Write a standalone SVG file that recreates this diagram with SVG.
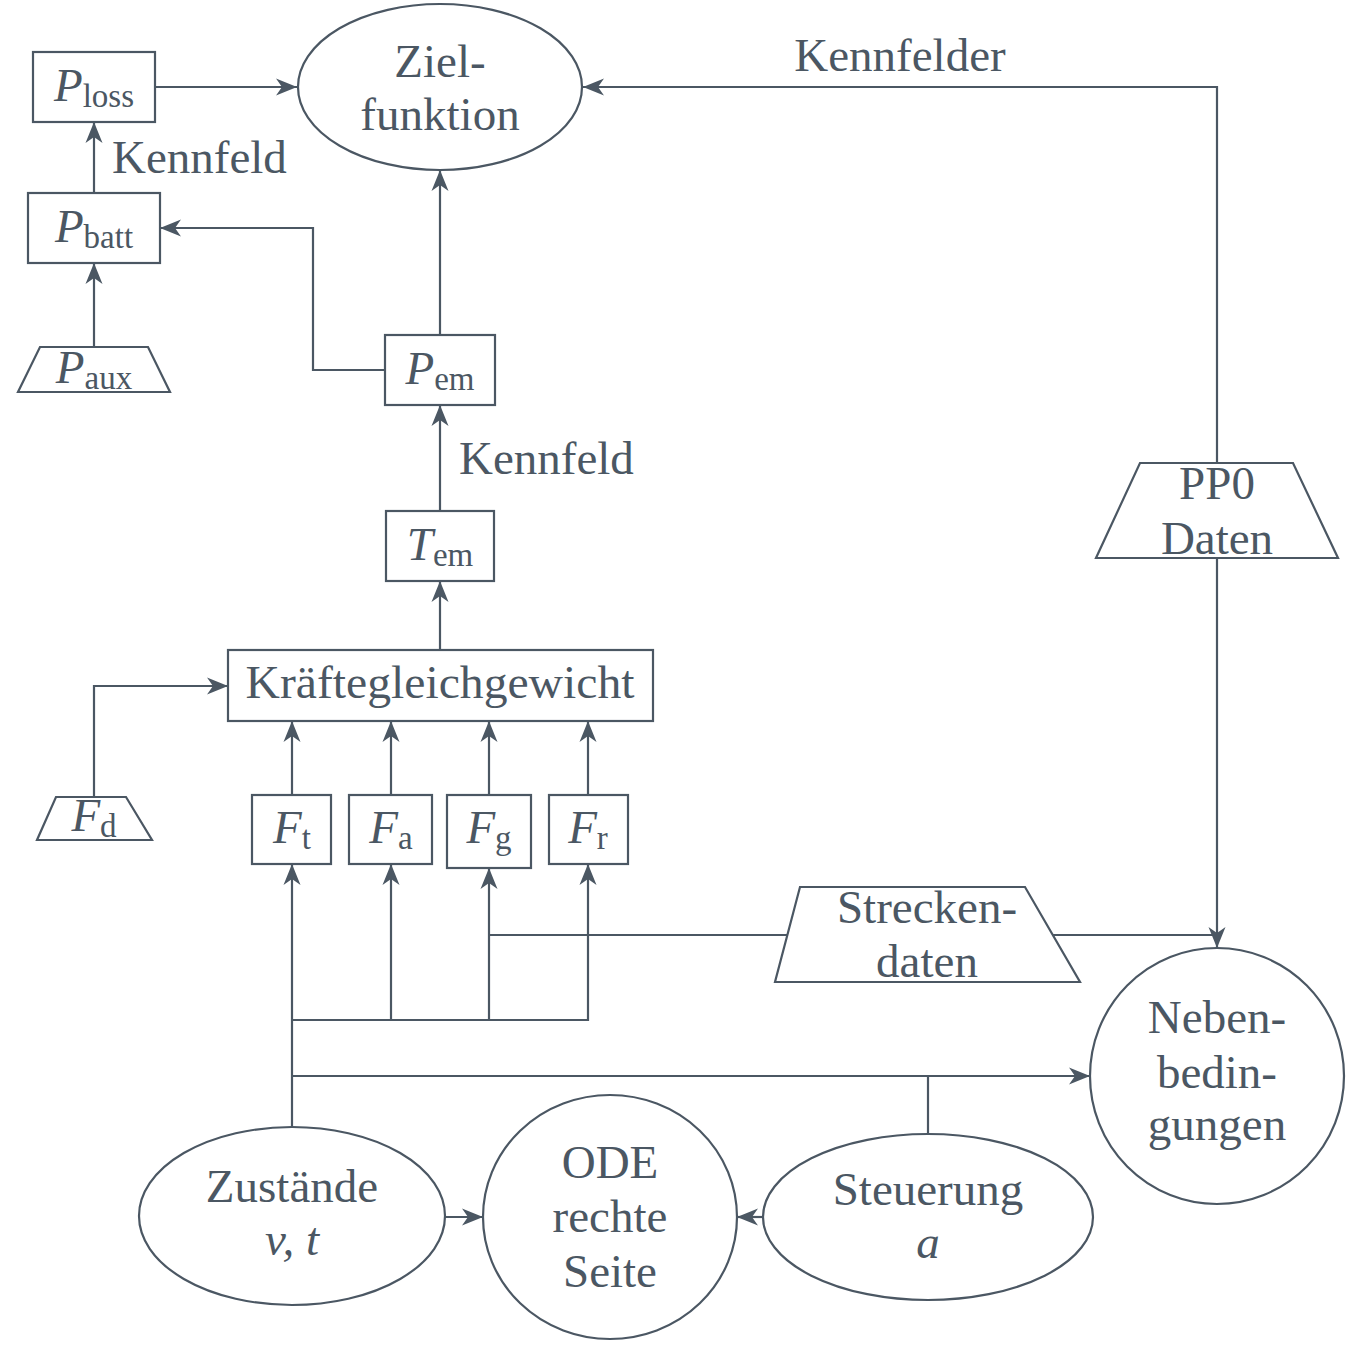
<svg xmlns="http://www.w3.org/2000/svg" width="1372" height="1350" viewBox="0 0 1372 1350">
<style>
.s{fill:none;stroke:#4b5763;stroke-width:2.2}
.c{fill:none;stroke:#4b5763;stroke-width:2.2}
text{font-family:"Liberation Serif","DejaVu Serif",serif;font-size:47px;fill:#4b5763;text-anchor:middle}
.i{font-style:italic}
.sub{font-size:33px}
.l{text-anchor:start}
</style>
<defs>
<marker id="arr" viewBox="-22 -10 23 20" refX="0" refY="0" markerWidth="23" markerHeight="20" orient="auto" markerUnits="userSpaceOnUse">
<path d="M0,0 L-21,-8.5 L-15,0 L-21,8.5 Z" fill="#4b5763"/>
</marker>
</defs>
<rect width="1372" height="1350" fill="#ffffff"/>
<g id="connectors">
<path class="c" d="M155,87 H297" marker-end="url(#arr)"/>
<path class="c" d="M94,193 V122" marker-end="url(#arr)"/>
<path class="c" d="M94,347 V263" marker-end="url(#arr)"/>
<path class="c" d="M440,335 V170" marker-end="url(#arr)"/>
<path class="c" d="M385,370 H313 V228 H160" marker-end="url(#arr)"/>
<path class="c" d="M440,511 V405" marker-end="url(#arr)"/>
<path class="c" d="M440,650 V581" marker-end="url(#arr)"/>
<path class="c" d="M94,797 V686 H228" marker-end="url(#arr)"/>
<path class="c" d="M292,795 V721" marker-end="url(#arr)"/>
<path class="c" d="M391,795 V721" marker-end="url(#arr)"/>
<path class="c" d="M489,795 V721" marker-end="url(#arr)"/>
<path class="c" d="M588,795 V721" marker-end="url(#arr)"/>
<path class="c" d="M292,1127 V864" marker-end="url(#arr)"/>
<path class="c" d="M391,1020 V864" marker-end="url(#arr)"/>
<path class="c" d="M489,1020 V868" marker-end="url(#arr)"/>
<path class="c" d="M292,1020 H588 V864" marker-end="url(#arr)"/>
<path class="c" d="M787,935 H489"/>
<path class="c" d="M1053,935 H1217"/>
<path class="c" d="M1217,558 V948" marker-end="url(#arr)"/>
<path class="c" d="M1217,463 V87 H583" marker-end="url(#arr)"/>
<path class="c" d="M292,1076 H1090" marker-end="url(#arr)"/>
<path class="c" d="M928,1134 V1076"/>
<path class="c" d="M445,1217 H483" marker-end="url(#arr)"/>
<path class="c" d="M763,1217 H737" marker-end="url(#arr)"/>
<text class="l" x="112" y="173">Kennfeld</text>
<text class="l" x="459" y="474">Kennfeld</text>
<text x="900" y="71">Kennfelder</text>
</g>
<g id="zielfunktion">
<ellipse class="s" cx="440" cy="87" rx="142" ry="83"/>
<text x="440" y="77">Ziel-</text>
<text x="440" y="130">funktion</text>
</g>
<g id="ploss">
<rect class="s" x="33" y="52" width="122" height="70"/>
<text x="94" y="101"><tspan class="i">P</tspan><tspan class="sub" dy="6">loss</tspan></text>
</g>
<g id="pbatt">
<rect class="s" x="28" y="193" width="132" height="70"/>
<text x="94" y="242"><tspan class="i">P</tspan><tspan class="sub" dy="6">batt</tspan></text>
</g>
<g id="paux">
<polygon class="s" points="40,347 148,347 170,392 18,392"/>
<text x="94" y="383"><tspan class="i">P</tspan><tspan class="sub" dy="6">aux</tspan></text>
</g>
<g id="pem">
<rect class="s" x="385" y="335" width="110" height="70"/>
<text x="440" y="384"><tspan class="i">P</tspan><tspan class="sub" dy="6">em</tspan></text>
</g>
<g id="tem">
<rect class="s" x="386" y="511" width="108" height="70"/>
<text x="440" y="560"><tspan class="i">T</tspan><tspan class="sub" dy="6">em</tspan></text>
</g>
<g id="kraeftegleichgewicht">
<rect class="s" x="228" y="650" width="425" height="71"/>
<text x="440" y="698" textLength="389" lengthAdjust="spacingAndGlyphs">Kräftegleichgewicht</text>
</g>
<g id="fd">
<polygon class="s" points="56,797 126,797 152,840 37,840"/>
<text x="94" y="831"><tspan class="i">F</tspan><tspan class="sub" dy="6">d</tspan></text>
</g>
<g id="ft">
<rect class="s" x="252" y="795" width="79" height="69"/>
<text x="292" y="843"><tspan class="i">F</tspan><tspan class="sub" dy="6">t</tspan></text>
</g>
<g id="fa">
<rect class="s" x="349" y="795" width="83" height="69"/>
<text x="391" y="843"><tspan class="i">F</tspan><tspan class="sub" dy="6">a</tspan></text>
</g>
<g id="fg">
<rect class="s" x="447" y="795" width="84" height="73"/>
<text x="489" y="843"><tspan class="i">F</tspan><tspan class="sub" dy="6">g</tspan></text>
</g>
<g id="fr">
<rect class="s" x="549" y="795" width="79" height="69"/>
<text x="588" y="843"><tspan class="i">F</tspan><tspan class="sub" dy="6">r</tspan></text>
</g>
<g id="pp0daten">
<polygon class="s" points="1140,463 1293,463 1338,558 1096,558"/>
<text x="1217" y="499">PP0</text>
<text x="1217" y="554">Daten</text>
</g>
<g id="streckendaten">
<polygon class="s" points="800,887 1025,887 1080,982 775,982"/>
<text x="927" y="923">Strecken-</text>
<text x="927" y="977">daten</text>
</g>
<g id="nebenbedingungen">
<ellipse class="s" cx="1217" cy="1076" rx="127" ry="128"/>
<text x="1217" y="1033">Neben-</text>
<text x="1217" y="1088">bedin-</text>
<text x="1217" y="1140">gungen</text>
</g>
<g id="zustaende">
<ellipse class="s" cx="292" cy="1216" rx="153" ry="89"/>
<text x="292" y="1202">Zustände</text>
<text x="292" y="1255" class="i">v, t</text>
</g>
<g id="ode">
<ellipse class="s" cx="610" cy="1217" rx="127" ry="122"/>
<text x="610" y="1178">ODE</text>
<text x="610" y="1232">rechte</text>
<text x="610" y="1287">Seite</text>
</g>
<g id="steuerung">
<ellipse class="s" cx="928" cy="1217" rx="165" ry="83"/>
<text x="928" y="1205">Steuerung</text>
<text x="928" y="1258" class="i">a</text>
</g>
</svg>
